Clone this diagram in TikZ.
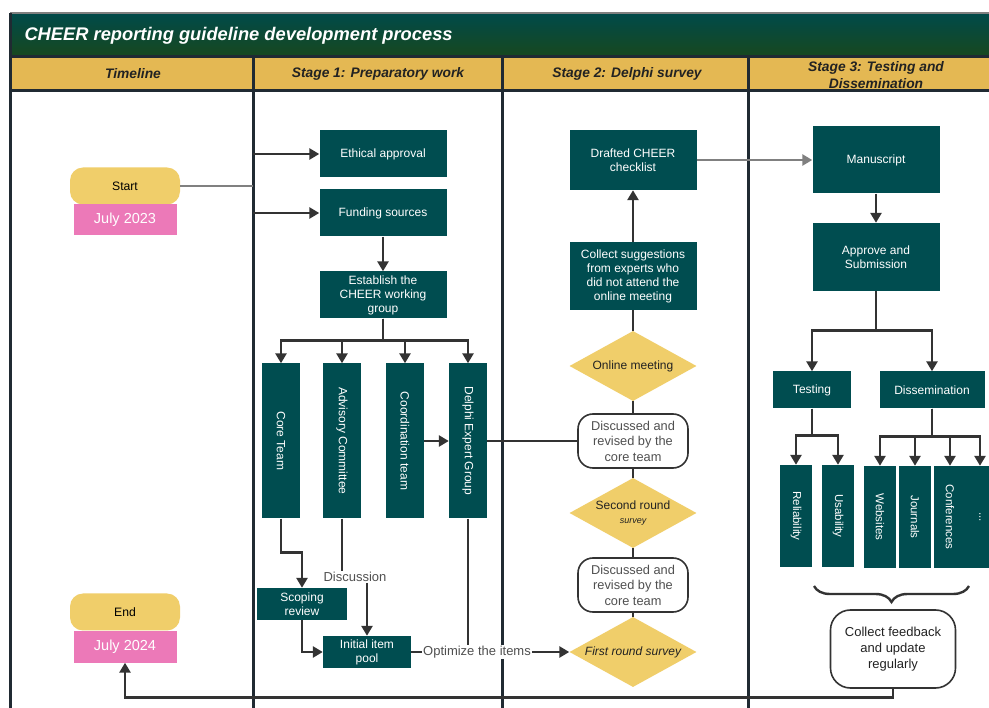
\documentclass[tikz,border=0pt]{standalone}
\usepackage{fontspec}
\setmainfont{Liberation Sans}
\usepackage{graphicx}
\usetikzlibrary{shapes,arrows.meta,decorations.pathreplacing}
\definecolor{cheerteal}{RGB}{0,77,80}
\definecolor{cheergold}{RGB}{228,184,83}
\definecolor{cheeryellow}{RGB}{240,206,106}
\definecolor{cheerpink}{RGB}{236,121,184}
\definecolor{titletop}{RGB}{0,74,74}
\definecolor{titlebottom}{RGB}{24,72,30}
\definecolor{linedark}{RGB}{51,51,51}
\definecolor{lanedark}{RGB}{32,42,50}
\definecolor{textdark}{RGB}{34,34,34}
\definecolor{textgray}{RGB}{80,80,80}
\tikzstyle{block} = [rectangle, fill=cheerteal, text=white, align=center,
    inner sep=1pt, font=\fontsize{12}{14}\selectfont]
\tikzstyle{vblock} = [block, minimum width=38, minimum height=155]
\tikzstyle{sblock} = [block, minimum width=32, minimum height=102,
    font=\fontsize{11.5}{13}\selectfont]
\tikzstyle{decision} = [diamond, fill=cheeryellow, text=textdark, align=center,
    inner sep=0pt, aspect=1.85, minimum width=127, minimum height=70,
    font=\fontsize{12}{14}\selectfont]
\tikzstyle{talk} = [rectangle, rounded corners=15, draw=linedark, line width=1.6pt,
    fill=white, text=textgray, align=center, font=\fontsize{12.8}{15.5}\selectfont]
\tikzstyle{term} = [rectangle, rounded corners=13, fill=cheeryellow, text=black,
    minimum width=110, minimum height=37, font=\fontsize{12.2}{14}\selectfont]
\tikzstyle{date} = [rectangle, fill=cheerpink, text=white, minimum width=103,
    minimum height=31, font=\fontsize{14.5}{16}\selectfont]
\tikzstyle{head} = [text=textdark, align=center,
    font=\fontsize{13.8}{17}\selectfont\bfseries\itshape]
\tikzstyle{flowtext} = [fill=white, text=textgray, inner sep=1pt,
    font=\fontsize{13}{14}\selectfont]
\tikzstyle{lane} = [draw=lanedark, line width=3pt]
\tikzstyle{conn} = [draw=linedark, line width=2.8pt]
\tikzstyle{line} = [draw=linedark, line width=2.8pt, -{Triangle[length=10pt,width=11pt]}]

\begin{document}
\begin{tikzpicture}[x=1pt, y=-1pt]
  \useasboundingbox (0,0) rectangle (989,708);
  \clip (0,0) rectangle (989,708);
  \fill[white] (0,0) rectangle (989,708);
  \shade[top color=titletop, bottom color=titlebottom] (10,13) rectangle (1000,57);
  \fill[cheergold] (10,57) rectangle (1000,91);
  \node[anchor=west, text=white, font=\fontsize{18.3}{20}\selectfont\bfseries\itshape]
    (title) at (21,36) {CHEER reporting guideline development process};
  \node[head] (h0) at (133,74) {Timeline};
  \node[head] (h1) at (378,74) {Stage 1: Preparatory work};
  \node[head] (h2) at (627,74) {Stage 2: Delphi survey};
  \node[head] (h3) at (876,75) {Stage 3: Testing and\\Dissemination};
  \draw[draw=gray, line width=1.5pt] (10,13) -- (1000,13);
  \draw[lane] (10,57) -- (1000,57);
  \draw[lane] (10,91) -- (1000,91);
  \draw[lane] (10,13) -- (10,720);
  \draw[lane] (253,57) -- (253,720);
  \draw[lane] (502,57) -- (502,720);
  \draw[lane] (748,57) -- (748,720);

  \node[term] (start) at (125,186) {Start};
  \node[date] (jul23) at (125,220) {July 2023};
  \node[term] (end) at (125,612) {End};
  \node[date] (jul24) at (125,647) {July 2024};

  \node[block, minimum width=127, minimum height=47] (ethic) at (383,154) {Ethical approval};
  \node[block, minimum width=127, minimum height=47] (fund) at (383,213) {Funding sources};
  \node[block, minimum width=127, minimum height=47] (estab) at (383,295)
    {Establish the\\CHEER working\\group};
  \node[vblock] (core) at (281,441) {\rotatebox{-90}{Core Team}};
  \node[vblock] (adv) at (342,441) {\rotatebox{-90}{Advisory Committee}};
  \node[vblock] (coord) at (405,441) {\rotatebox{-90}{Coordination team}};
  \node[vblock] (dlp) at (468,441) {\rotatebox{-90}{Delphi Expert Group}};
  \node[block, minimum width=90, minimum height=32] (scop) at (302,604) {Scoping\\review};
  \node[block, minimum width=88, minimum height=32] (init) at (367,652) {Initial item\\pool};
  \node[flowtext] (disc) at (355,577) {Discussion};
  \node[flowtext] (opt) at (477,652) {Optimize the items};

  \node[block, minimum width=127, minimum height=60] (draft) at (633,160)
    {Drafted CHEER\\checklist};
  \node[block, minimum width=127, minimum height=68] (collect) at (633,276)
    {Collect suggestions\\from experts who\\did not attend the\\online meeting};
  \node[decision] (online) at (633,366) {Online meeting};
  \node[talk, minimum width=110, minimum height=54] (dis1) at (633,441)
    {Discussed and\\revised by the\\core team};
  \node[decision] (second) at (633,513) {Second round\\{\itshape\small survey}};
  \node[talk, minimum width=110, minimum height=54] (dis2) at (633,585)
    {Discussed and\\revised by the\\core team};
  \node[decision] (first) at (633,652) {\itshape First round survey};

  \node[block, minimum width=127, minimum height=67] (manu) at (876,160) {Manuscript};
  \node[block, minimum width=127, minimum height=68] (appr) at (876,257)
    {Approve and\\Submission};
  \node[block, minimum width=78, minimum height=37] (test) at (812,390) {Testing};
  \node[block, minimum width=105, minimum height=37] (dissem) at (932,390) {Dissemination};
  \node[sblock] (rel) at (796,516) {\rotatebox{-90}{Reliability}};
  \node[sblock] (usa) at (838,516) {\rotatebox{-90}{Usability}};
  \node[sblock] (web) at (880,517) {\rotatebox{-90}{Websites}};
  \node[sblock] (jour) at (915,517) {\rotatebox{-90}{Journals}};
  \node[sblock] (conf) at (950,517) {\rotatebox{-90}{Conferences}};
  \node[sblock, minimum width=28] (more) at (980,517) {\rotatebox{-90}{...}};
  \node[talk, rounded corners=20, minimum width=125, minimum height=78, text=textdark,
    font=\fontsize{13}{16}\selectfont] (fb) at (893,649)
    {Collect feedback\\and update\\regularly};

  \coordinate (sfork) at (253,186);
  \path[conn, draw=gray, line width=2pt] (start.east) -- (sfork);
  \path[line] (sfork |- ethic.west) -- (ethic.west);
  \path[line] (sfork |- fund.west) -- (fund.west);
  \path[line] (fund) -- (estab);
  \foreach \n in {core,adv,coord,dlp}
    \path[line] (estab.south) -- ++(0,22) -| (\n.north);
  \path[line] (coord.east) -- (dlp.west);
  \path[conn] (dlp.east) -- (dis1.west);
  \path[line] (core.south) -- ++(0,34) -| (scop.north);
  \path[conn] (adv.south) -- (adv.south |- disc.north);
  \path[line] (disc.south -| init.north) -- (init.north);
  \path[line] (scop.south) |- (init.west);
  \path[conn] (init.east) -- (opt.west);
  \path[line] (opt.east) -- (first.west);
  \path[conn] (dlp.south) -- (dlp.south |- opt.north);

  \path[conn] (first.north) -- (dis2.south);
  \path[conn] (dis2.north) -- (second.south);
  \path[conn] (second.north) -- (dis1.south);
  \path[conn] (dis1.north) -- (online.south);
  \path[conn] (online.north) -- (collect.south);
  \path[line] (collect.north) -- (draft.south);
  \path[line, draw=gray] (draft.east) -- (manu.west);

  \path[line] (manu) -- (appr);
  \foreach \n in {test,dissem}
    \path[line] (appr.south) -- ++(0,39) -| (\n.north);
  \foreach \n in {rel,usa}
    \path[line] (test.south) -- ++(0,27) -| (\n.north);
  \foreach \n in {web,jour,conf,more}
    \path[line] (dissem.south) -- ++(0,28) -| (\n.north);
  \draw[conn, line width=2.4pt, decorate, decoration={brace, mirror, amplitude=16pt}]
    (814,586) -- (969,586);
  \path[line] (fb.south) -- ++(0,9) -| (jul24.south);
\end{tikzpicture}
\end{document}
